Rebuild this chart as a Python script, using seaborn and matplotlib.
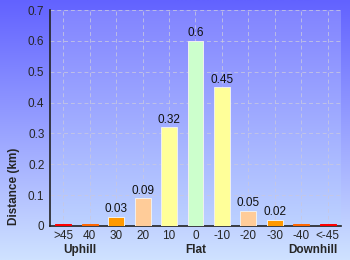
import numpy as np
import pandas as pd
import matplotlib
matplotlib.use("Agg")
import matplotlib.pyplot as plt
import seaborn as sns
from matplotlib.colors import LinearSegmentedColormap

categories = [">45", "40", "30", "20", "10", "0", "-10", "-20", "-30", "-40", "<-45"]
distances = [0.008, 0.008, 0.03, 0.09, 0.32, 0.6, 0.45, 0.05, 0.02, 0.008, 0.008]
labels = ["", "", "0.03", "0.09", "0.32", "0.6", "0.45", "0.05", "0.02", "", ""]
bar_colors = ["#ff0000", "#ff6600", "#ff9900", "#ffcc99", "#ffff99", "#ccffcc",
              "#ffff99", "#ffcc99", "#ff9900", "#ff6600", "#ff0000"]
yticks = [0, 0.1, 0.2, 0.3, 0.4, 0.5, 0.6, 0.7]

df = pd.DataFrame({"grade": categories, "dist": distances})

sns.set_style("white")
plt.rcParams['font.family'] = ['Liberation Sans', 'DejaVu Sans']

fig = plt.figure(figsize=(3.5, 2.6), dpi=100)

# figure background gradient
bg = fig.add_axes([0, 0, 1, 1], zorder=-10)
fig_cmap = LinearSegmentedColormap.from_list("figbg", ["#6262ff", "#cfe2ff"])
bg.imshow(np.linspace(0, 1, 256).reshape(-1, 1), cmap=fig_cmap, aspect="auto",
          extent=[0, 1, 0, 1], origin="upper")
bg.set_axis_off()

ax = fig.add_axes([50 / 350, 34 / 260, 291 / 350, 216 / 260])
ax.set_facecolor("none")
plot_cmap = LinearSegmentedColormap.from_list("plotbg", ["#8284ff", "#bdd2ff"])
ax.imshow(np.linspace(0, 1, 256).reshape(-1, 1), cmap=plot_cmap, aspect="auto",
          extent=[-0.5, len(categories) - 0.5, 0, 0.7], origin="upper", zorder=0)

sns.barplot(data=df, x="grade", y="dist", hue="grade", palette=bar_colors,
            legend=False, width=0.6, saturation=1, edgecolor="#f0f0f0", linewidth=0.7,
            ax=ax, zorder=3)
for p, v in zip(ax.patches, distances):
    if v < 0.01:
        p.set_edgecolor(p.get_facecolor())

ax.set_xlim(-0.5, len(categories) - 0.5)
ax.set_ylim(0, 0.7)
ax.set_yticks(yticks)
ax.set_yticklabels([f"{t:g}" for t in yticks], fontsize=8.5)
ax.set_yticks(np.arange(0.05, 0.7, 0.1), minor=True)
ax.tick_params(axis="y", which="major", direction="inout", length=6, width=1, color="#222222", pad=1)
ax.tick_params(axis="y", which="minor", direction="out", length=3, width=1, color="#ee0000")
ax.tick_params(axis="x", which="major", direction="out", length=0, pad=3, labelsize=8.5)

ax.grid(True, axis="both", linestyle=(0, (4, 3)), color="#c8c8e0", linewidth=0.7, alpha=0.8, zorder=1)
ax.set_axisbelow(True)

for s in ["top", "right"]:
    ax.spines[s].set_visible(False)
for s in ["left", "bottom"]:
    ax.spines[s].set_color("#222222")
    ax.spines[s].set_linewidth(1.2)
    ax.spines[s].set_zorder(2)

for i, (v, lab) in enumerate(zip(distances, labels)):
    if lab:
        ax.text(i, v + 0.005, lab, ha="center", va="bottom", fontsize=8.5, color="#111111", zorder=6)

ax.set_xlabel("")
ax.set_ylabel("")
fig.text(14 / 350, 1 - 186 / 260, "Distance (km)", rotation=90, ha="center", va="center",
         fontsize=8.5, fontweight="bold")

fig.text(80 / 350, 1 - 250 / 260, "Uphill", ha="center", va="center", fontsize=8.5, fontweight="bold")
fig.text(196 / 350, 1 - 250 / 260, "Flat", ha="center", va="center", fontsize=8.5, fontweight="bold")
fig.text(313 / 350, 1 - 250 / 260, "Downhill", ha="center", va="center", fontsize=8.5, fontweight="bold")

fig.savefig("out.png", dpi=100)
